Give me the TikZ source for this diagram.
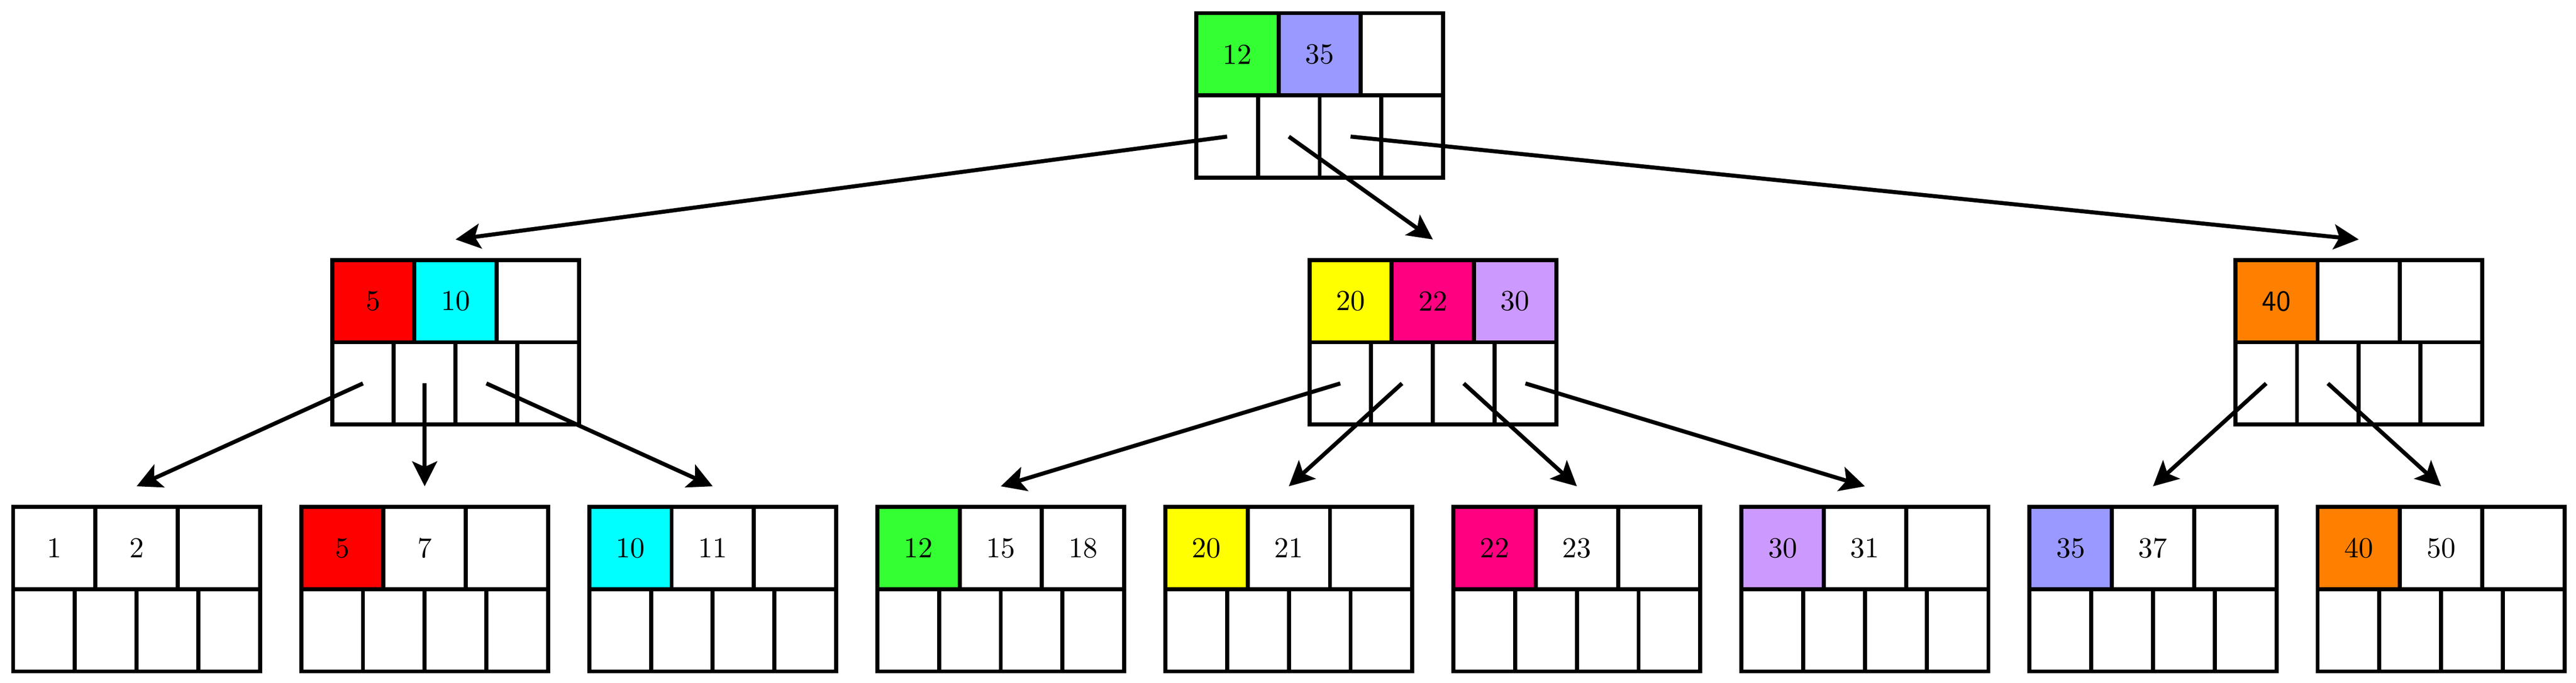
\documentclass[tikz,border=0pt]{standalone}
\usepackage{tikz}
\usetikzlibrary{positioning,arrows.meta}
\definecolor{keyred}{rgb}{1,0,0}
\definecolor{keycyan}{rgb}{0,1,1}
\definecolor{keygreen}{rgb}{0.2,1,0.2}
\definecolor{keyblue}{rgb}{0.6,0.6,1}
\definecolor{keyyellow}{rgb}{1,1,0}
\definecolor{keypink}{rgb}{1,0,0.5}
\definecolor{keyviolet}{rgb}{0.8,0.6,1}
\definecolor{keyorange}{rgb}{1,0.5,0}
\tikzset{
  keycell/.style={draw=black, line width=1.4pt, minimum width=1cm, minimum height=1cm,
    inner sep=0pt, outer sep=0pt, fill=white},
  ptrcell/.style={draw=black, line width=1.4pt, minimum width=0.75cm, minimum height=1cm,
    inner sep=0pt, outer sep=0pt, fill=white},
  pointer/.style={line width=1.4pt, draw=black,
    -{Stealth[length=8.6pt,width=8.6pt,inset=1.9pt]}}
}
% one node of the tree: name, top left corner, then fill and key of the three key cells
\newcommand{\btnode}[8]{%
  \node[keycell, fill=#3, anchor=north west] (#1-k1) at #2 {#4};
  \node[keycell, fill=#5, right=0pt of #1-k1] (#1-k2) {#6};
  \node[keycell, fill=#7, right=0pt of #1-k2] (#1-k3) {#8};
  \node[ptrcell, anchor=north west] (#1-p1) at (#1-k1.south west) {};
  \node[ptrcell, right=0pt of #1-p1] (#1-p2) {};
  \node[ptrcell, right=0pt of #1-p2] (#1-p3) {};
  \node[ptrcell, right=0pt of #1-p3] (#1-p4) {};
  \coordinate[above=2.5mm of #1-k2.north] (#1-in);
}
\begin{document}
\begin{tikzpicture}
    \useasboundingbox (-0.16,-0.14) rectangle (31.14,8.16);

    % root
    \btnode{root}{(14.375,8)}{keygreen}{12}{keyblue}{35}{white}{}
    % second level
    \btnode{nA}{(3.875,5)}{keyred}{5}{keycyan}{10}{white}{}
    \btnode{nB}{(15.75,5)}{keyyellow}{20}{keypink}{22}{keyviolet}{30}
    \btnode{nC}{(27,5)}{keyorange}{\sffamily 40}{white}{}{white}{}
    % leaves
    \btnode{l1}{(0,2)}{white}{1}{white}{2}{white}{}
    \btnode{l2}{(3.5,2)}{keyred}{5}{white}{7}{white}{}
    \btnode{l3}{(7,2)}{keycyan}{10}{white}{11}{white}{}
    \btnode{l4}{(10.5,2)}{keygreen}{12}{white}{15}{white}{18}
    \btnode{l5}{(14,2)}{keyyellow}{20}{white}{21}{white}{}
    \btnode{l6}{(17.5,2)}{keypink}{22}{white}{23}{white}{}
    \btnode{l7}{(21,2)}{keyviolet}{30}{white}{31}{white}{}
    \btnode{l8}{(24.5,2)}{keyblue}{35}{white}{37}{white}{}
    \btnode{l9}{(28,2)}{keyorange}{40}{white}{50}{white}{}

    \draw[pointer] (root-p1.center) -- (nA-in);
    \draw[pointer] (root-p2.center) -- (nB-in);
    \draw[pointer] (root-p3.center) -- (nC-in);

    \draw[pointer] (nA-p1.center) -- (l1-in);
    \draw[pointer] (nA-p2.center) -- (l2-in);
    \draw[pointer] (nA-p3.center) -- (l3-in);

    \draw[pointer] (nB-p1.center) -- (l4-in);
    \draw[pointer] (nB-p2.center) -- (l5-in);
    \draw[pointer] (nB-p3.center) -- (l6-in);
    \draw[pointer] (nB-p4.center) -- (l7-in);

    \draw[pointer] (nC-p1.center) -- (l8-in);
    \draw[pointer] (nC-p2.center) -- (l9-in);

\end{tikzpicture}
\end{document}
